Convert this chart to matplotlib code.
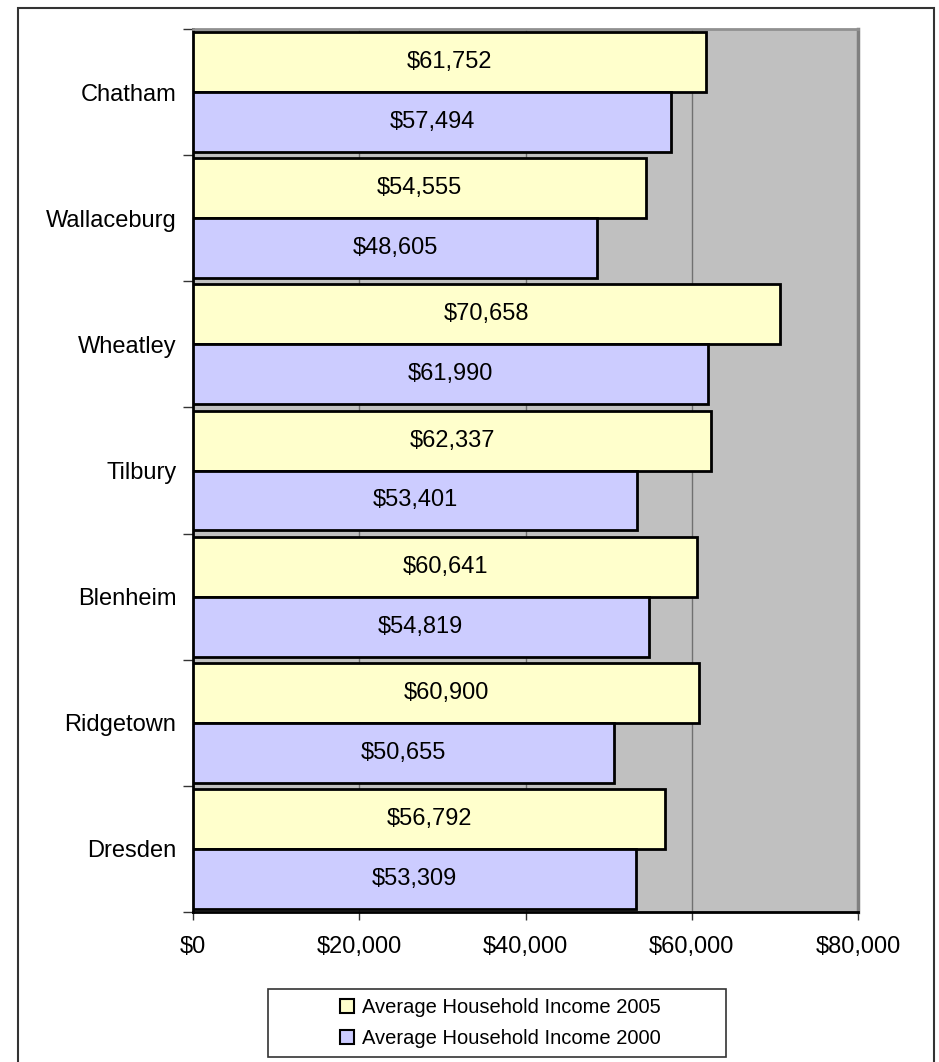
import matplotlib
matplotlib.use("Agg")
import matplotlib.pyplot as plt
from matplotlib.patches import Rectangle, Patch
import numpy as np

plt.rcParams['font.family'] = ['Liberation Sans', 'DejaVu Sans']

towns = ['Chatham', 'Wallaceburg', 'Wheatley', 'Tilbury', 'Blenheim', 'Ridgetown', 'Dresden']
income_2005 = [61752, 54555, 70658, 62337, 60641, 60900, 56792]
income_2000 = [57494, 48605, 61990, 53401, 54819, 50655, 53309]
x_ticks = [0, 20000, 40000, 60000, 80000]
x_labels = ['$0', '$20,000', '$40,000', '$60,000', '$80,000']

W, H = 939, 1062
fig = plt.figure(figsize=(W / 100, H / 100), dpi=100)

# outer chart border (bottom edge runs off the image)
fig.patches.append(Rectangle((18 / W, -0.02), (934 - 18) / W, 1.02 - 8 / H,
                             transform=fig.transFigure, fill=False,
                             edgecolor='#333333', linewidth=1.5))

ax = fig.add_axes([193 / W, 1 - 912 / H, (858 - 193) / W, (912 - 29) / H])
ax.set_facecolor('#C0C0C0')

pos = np.arange(len(towns))
h = 0.475
ax.barh(pos - h / 2, income_2005, height=h, color='#FFFFCC', edgecolor='black',
        linewidth=2, zorder=3)
ax.barh(pos + h / 2, income_2000, height=h, color='#CCCCFF', edgecolor='black',
        linewidth=2, zorder=3)

for i in range(len(towns)):
    ax.text(income_2005[i] / 2, pos[i] - h / 2, '${:,}'.format(income_2005[i]),
            ha='center', va='center', fontsize=17, zorder=4)
    ax.text(income_2000[i] / 2, pos[i] + h / 2, '${:,}'.format(income_2000[i]),
            ha='center', va='center', fontsize=17, zorder=4)

ax.set_xlim(0, 80000)
ax.set_ylim(len(towns) - 0.5, -0.5)
ax.set_xticks(x_ticks)
ax.set_xticklabels(x_labels, fontsize=17)
ax.xaxis.grid(True, color='#707070', linewidth=1, zorder=1)
ax.set_axisbelow(True)

ax.set_yticks(pos)
ax.set_yticklabels(towns, fontsize=17)
ax.set_yticks(np.arange(len(towns) + 1) - 0.5, minor=True)
ax.tick_params(axis='y', which='major', length=0, pad=12)
ax.tick_params(axis='y', which='minor', length=7, width=1, direction='out', color='#333333')
ax.tick_params(axis='x', length=6, width=1, direction='out', pad=11, color='#333333')

ax.spines['left'].set_color('black')
ax.spines['left'].set_linewidth(2)
ax.spines['bottom'].set_color('black')
ax.spines['bottom'].set_linewidth(2)
ax.spines['top'].set_color('#909090')
ax.spines['top'].set_linewidth(2)
ax.spines['right'].set_color('#808080')
ax.spines['right'].set_linewidth(2.5)

# legend box drawn by hand so it can be wider than its contents
fig.patches.append(Rectangle((268 / W, 1 - 1057 / H), (726 - 268) / W, (1057 - 989) / H,
                             transform=fig.transFigure, facecolor='white',
                             edgecolor='#333333', linewidth=1.2))
handles = [Patch(facecolor='#FFFFCC', edgecolor='black', linewidth=1.5),
           Patch(facecolor='#CCCCFF', edgecolor='black', linewidth=1.5)]
fig.legend(handles, ['Average Household Income 2005', 'Average Household Income 2000'],
           loc='center left', bbox_to_anchor=(340 / W, 1 - (989 + 1057) / 2 / H),
           fontsize=14.5, frameon=False,
           handlelength=0.7, handleheight=0.7, handletextpad=0.4,
           borderpad=0, labelspacing=0.6, borderaxespad=0)

fig.savefig('out.png', dpi=100)
